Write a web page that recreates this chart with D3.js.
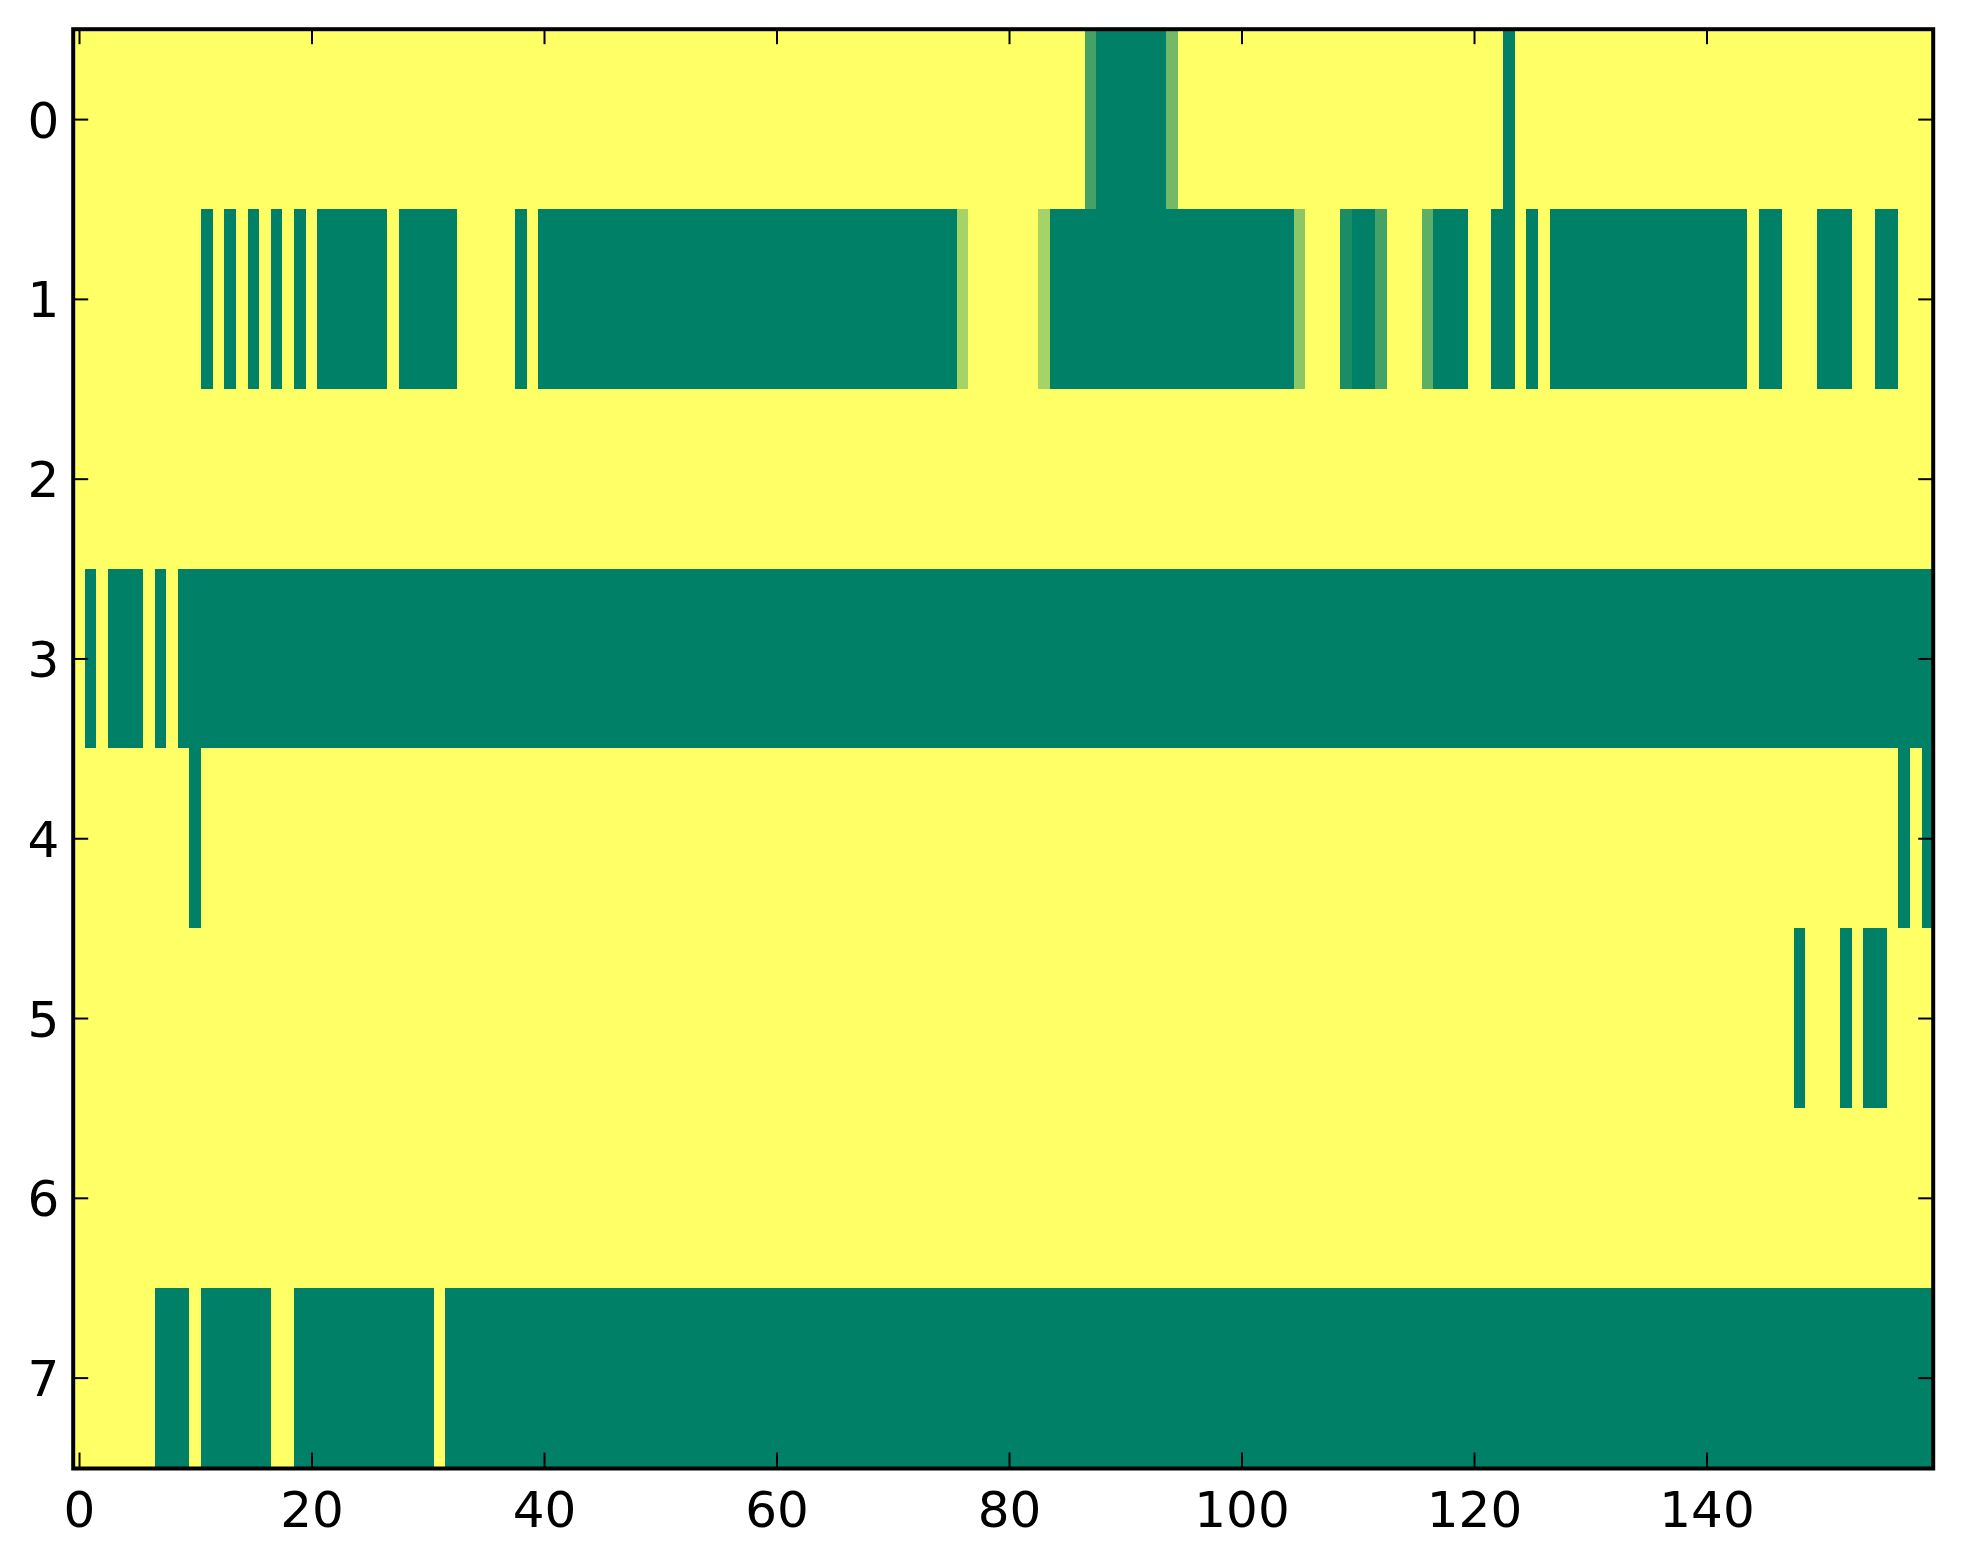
<!DOCTYPE html>
<html>
<head>
<meta charset="utf-8">
<script src="https://cdn.jsdelivr.net/npm/d3@7"></script>
<style>
  body { margin: 0; background: #fff; }
  .tick text { font-family: "DejaVu Sans", sans-serif; font-size: 50px; fill: #000; }
</style>
</head>
<body>
<script>
// cell values, 0 = dark green, 1 = yellow (summer colormap)
const row0 = [
  1,1,1,1,1,1,1,1,1,1, 1,1,1,1,1,1,1,1,1,1,
  1,1,1,1,1,1,1,1,1,1, 1,1,1,1,1,1,1,1,1,1,
  1,1,1,1,1,1,1,1,1,1, 1,1,1,1,1,1,1,1,1,1,
  1,1,1,1,1,1,1,1,1,1, 1,1,1,1,1,1,1,1,1,1,
  1,1,1,1,1,1,1,.27,0,0, 0,0,0,0,.45,1,1,1,1,1,
  1,1,1,1,1,1,1,1,1,1, 1,1,1,1,1,1,1,1,1,1,
  1,1,1,0,1,1,1,1,1,1, 1,1,1,1,1,1,1,1,1,1,
  1,1,1,1,1,1,1,1,1,1, 1,1,1,1,1,1,1,1,1,1
];
const row1 = [
  1,1,1,1,1,1,1,1,1,1, 1,0,1,0,1,0,1,0,1,0,
  1,0,0,0,0,0,0,1,0,0, 0,0,0,1,1,1,1,1,0,1,
  0,0,0,0,0,0,0,0,0,0, 0,0,0,0,0,0,0,0,0,0,
  0,0,0,0,0,0,0,0,0,0, 0,0,0,0,0,0,.65,1,1,1,
  1,1,1,.65,0,0,0,0,0,0, 0,0,0,0,0,0,0,0,0,0,
  0,0,0,0,0,.55,1,1,1,.1, 0,0,.27,1,1,1,.37,0,0,0,
  1,1,0,0,1,0,1,0,0,0, 0,0,0,0,0,0,0,0,0,0,
  0,0,0,0,1,0,0,1,1,1, 0,0,0,1,1,0,0,1,1,1
];
const row2 = [
  1,1,1,1,1,1,1,1,1,1, 1,1,1,1,1,1,1,1,1,1,
  1,1,1,1,1,1,1,1,1,1, 1,1,1,1,1,1,1,1,1,1,
  1,1,1,1,1,1,1,1,1,1, 1,1,1,1,1,1,1,1,1,1,
  1,1,1,1,1,1,1,1,1,1, 1,1,1,1,1,1,1,1,1,1,
  1,1,1,1,1,1,1,1,1,1, 1,1,1,1,1,1,1,1,1,1,
  1,1,1,1,1,1,1,1,1,1, 1,1,1,1,1,1,1,1,1,1,
  1,1,1,1,1,1,1,1,1,1, 1,1,1,1,1,1,1,1,1,1,
  1,1,1,1,1,1,1,1,1,1, 1,1,1,1,1,1,1,1,1,1
];
const row3 = [
  1,0,1,0,0,0,1,0,1,0, 0,0,0,0,0,0,0,0,0,0,
  0,0,0,0,0,0,0,0,0,0, 0,0,0,0,0,0,0,0,0,0,
  0,0,0,0,0,0,0,0,0,0, 0,0,0,0,0,0,0,0,0,0,
  0,0,0,0,0,0,0,0,0,0, 0,0,0,0,0,0,0,0,0,0,
  0,0,0,0,0,0,0,0,0,0, 0,0,0,0,0,0,0,0,0,0,
  0,0,0,0,0,0,0,0,0,0, 0,0,0,0,0,0,0,0,0,0,
  0,0,0,0,0,0,0,0,0,0, 0,0,0,0,0,0,0,0,0,0,
  0,0,0,0,0,0,0,0,0,0, 0,0,0,0,0,0,0,0,0,0
];
const row4 = [
  1,1,1,1,1,1,1,1,1,1, 0,1,1,1,1,1,1,1,1,1,
  1,1,1,1,1,1,1,1,1,1, 1,1,1,1,1,1,1,1,1,1,
  1,1,1,1,1,1,1,1,1,1, 1,1,1,1,1,1,1,1,1,1,
  1,1,1,1,1,1,1,1,1,1, 1,1,1,1,1,1,1,1,1,1,
  1,1,1,1,1,1,1,1,1,1, 1,1,1,1,1,1,1,1,1,1,
  1,1,1,1,1,1,1,1,1,1, 1,1,1,1,1,1,1,1,1,1,
  1,1,1,1,1,1,1,1,1,1, 1,1,1,1,1,1,1,1,1,1,
  1,1,1,1,1,1,1,1,1,1, 1,1,1,1,1,1,1,0,1,0
];
const row5 = [
  1,1,1,1,1,1,1,1,1,1, 1,1,1,1,1,1,1,1,1,1,
  1,1,1,1,1,1,1,1,1,1, 1,1,1,1,1,1,1,1,1,1,
  1,1,1,1,1,1,1,1,1,1, 1,1,1,1,1,1,1,1,1,1,
  1,1,1,1,1,1,1,1,1,1, 1,1,1,1,1,1,1,1,1,1,
  1,1,1,1,1,1,1,1,1,1, 1,1,1,1,1,1,1,1,1,1,
  1,1,1,1,1,1,1,1,1,1, 1,1,1,1,1,1,1,1,1,1,
  1,1,1,1,1,1,1,1,1,1, 1,1,1,1,1,1,1,1,1,1,
  1,1,1,1,1,1,1,1,0,1, 1,1,0,1,0,0,1,1,1,1
];
const row6 = [
  1,1,1,1,1,1,1,1,1,1, 1,1,1,1,1,1,1,1,1,1,
  1,1,1,1,1,1,1,1,1,1, 1,1,1,1,1,1,1,1,1,1,
  1,1,1,1,1,1,1,1,1,1, 1,1,1,1,1,1,1,1,1,1,
  1,1,1,1,1,1,1,1,1,1, 1,1,1,1,1,1,1,1,1,1,
  1,1,1,1,1,1,1,1,1,1, 1,1,1,1,1,1,1,1,1,1,
  1,1,1,1,1,1,1,1,1,1, 1,1,1,1,1,1,1,1,1,1,
  1,1,1,1,1,1,1,1,1,1, 1,1,1,1,1,1,1,1,1,1,
  1,1,1,1,1,1,1,1,1,1, 1,1,1,1,1,1,1,1,1,1
];
const row7 = [
  1,1,1,1,1,1,1,0,0,0, 1,0,0,0,0,0,0,1,1,0,
  0,0,0,0,0,0,0,0,0,0, 0,1,0,0,0,0,0,0,0,0,
  0,0,0,0,0,0,0,0,0,0, 0,0,0,0,0,0,0,0,0,0,
  0,0,0,0,0,0,0,0,0,0, 0,0,0,0,0,0,0,0,0,0,
  0,0,0,0,0,0,0,0,0,0, 0,0,0,0,0,0,0,0,0,0,
  0,0,0,0,0,0,0,0,0,0, 0,0,0,0,0,0,0,0,0,0,
  0,0,0,0,0,0,0,0,0,0, 0,0,0,0,0,0,0,0,0,0,
  0,0,0,0,0,0,0,0,0,0, 0,0,0,0,0,0,0,0,0,0
];
const rows = [row0, row1, row2, row3, row4, row5, row6, row7];

const xTicks = [0, 20, 40, 60, 80, 100, 120, 140];
const yTicks = [0, 1, 2, 3, 4, 5, 6, 7];

function drawCells(svg, xScale, yScale, color) {
  const cells = [];
  rows.forEach((r, j) => r.forEach((v, i) => cells.push({ row: j, col: i, value: v })));

  svg.append("g")
    .attr("shape-rendering", "crispEdges")
    .selectAll("rect")
    .data(cells)
    .enter()
    .append("rect")
    .attr("x", d => xScale(d.col - 0.5))
    .attr("y", d => yScale(d.row - 0.5))
    .attr("width", d => xScale(d.col + 0.5) - xScale(d.col - 0.5) + 0.5)
    .attr("height", d => yScale(d.row + 0.5) - yScale(d.row - 0.5) + 0.5)
    .attr("fill", d => color(d.value));
}

function drawAxes(svg, xScale, yScale, left, right, top, bottom) {
  const tick = 15;

  svg.append("g")
    .attr("transform", "translate(0," + bottom + ")")
    .call(d3.axisBottom(xScale).tickValues(xTicks).tickSize(-tick).tickSizeOuter(0).tickPadding(24));

  svg.append("g")
    .attr("transform", "translate(0," + top + ")")
    .call(d3.axisTop(xScale).tickValues(xTicks).tickSize(-tick).tickSizeOuter(0).tickFormat(""));

  svg.append("g")
    .attr("transform", "translate(" + left + ",0)")
    .call(d3.axisLeft(yScale).tickValues(yTicks).tickSize(-tick).tickSizeOuter(0).tickPadding(14))
    .selectAll("text")
    .attr("dy", "0.36em");

  svg.append("g")
    .attr("transform", "translate(" + right + ",0)")
    .call(d3.axisRight(yScale).tickValues(yTicks).tickSize(-tick).tickSizeOuter(0).tickFormat(""));

  svg.selectAll(".domain").remove();
  svg.selectAll(".tick line").attr("stroke", "#000").attr("stroke-width", 2);

  // frame
  svg.append("rect")
    .attr("x", left)
    .attr("y", top)
    .attr("width", right - left)
    .attr("height", bottom - top + 1)
    .attr("fill", "none")
    .attr("stroke", "#000")
    .attr("stroke-width", 4);
}

function main() {
  const left = 73.2, right = 1933.2, top = 29.2, bottom = 1467.5;

  const svg = d3.select("body")
    .append("svg")
    .attr("width", 1963)
    .attr("height", 1564);

  const xScale = d3.scaleLinear().domain([-0.5, 159.5]).range([left, right]);
  const yScale = d3.scaleLinear().domain([-0.5, 7.5]).range([top, bottom]);
  const color = d3.scaleLinear().domain([0, 1]).range(["#008066", "#ffff66"]);

  drawCells(svg, xScale, yScale, color);
  drawAxes(svg, xScale, yScale, left, right, top, bottom);
}

main();
</script>
</body>
</html>
